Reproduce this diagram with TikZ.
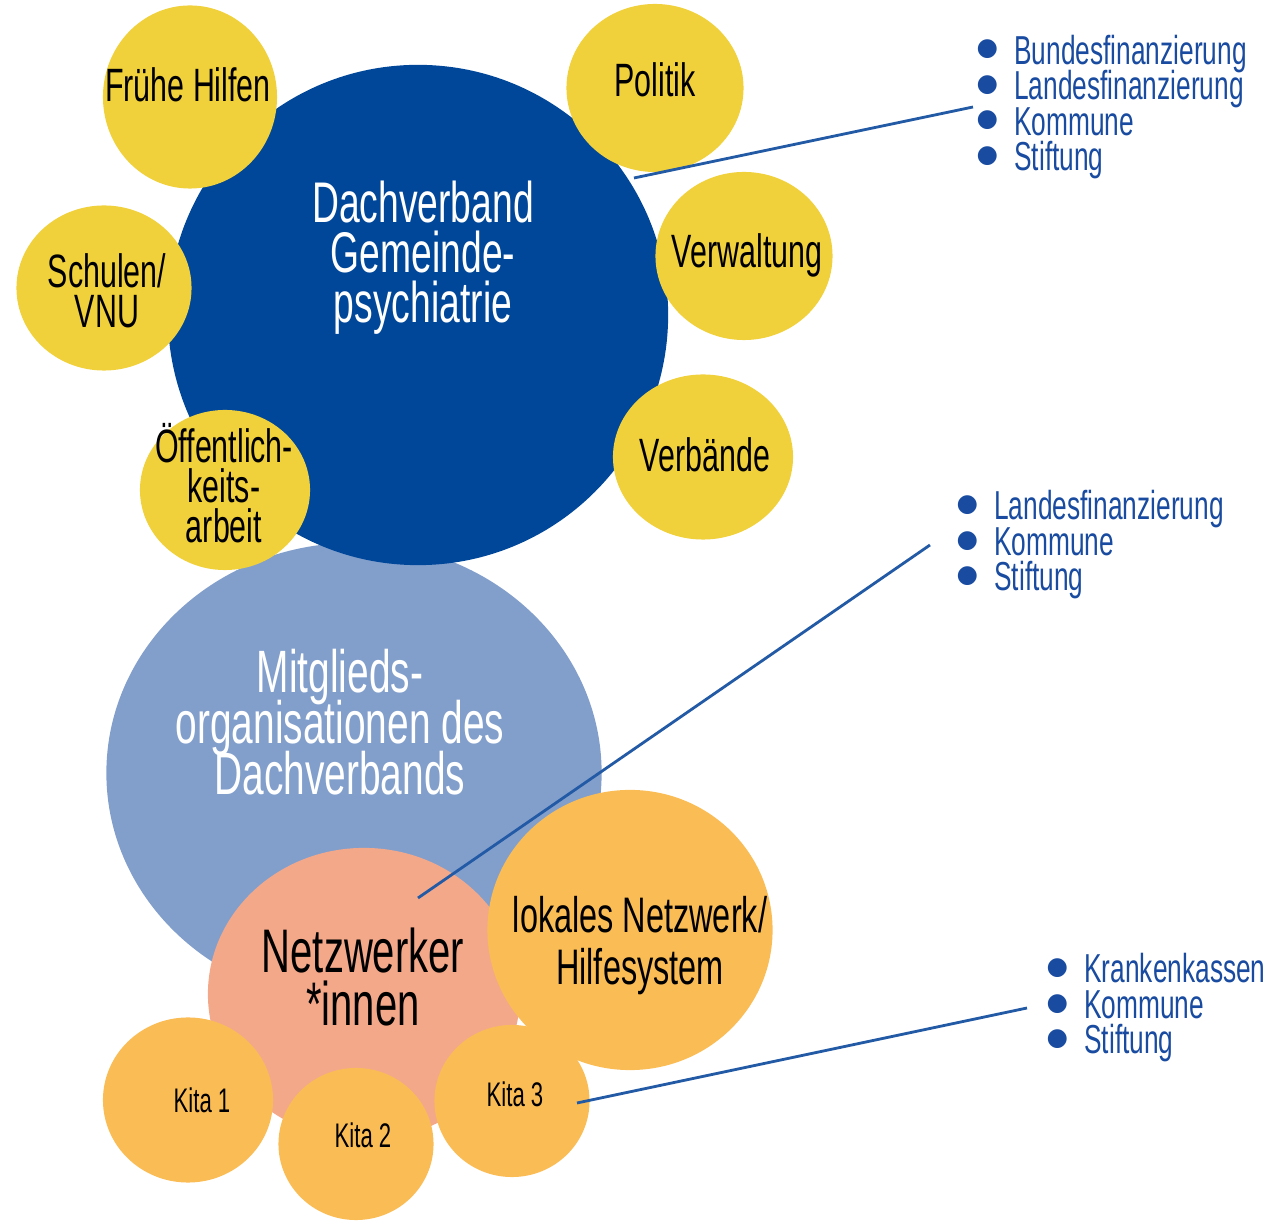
\documentclass[tikz,border=0pt]{standalone}
\usepackage{fontspec}
\setmainfont{Liberation Sans}[FakeStretch=0.65]
\newfontfamily\dotfont{DejaVu Sans}
\usetikzlibrary{shapes.geometric}

\definecolor{dachblau}{RGB}{0,71,153}
\definecolor{mitglblau}{RGB}{130,159,204}
\definecolor{gelb}{RGB}{240,209,60}
\definecolor{lachs}{RGB}{244,168,138}
\definecolor{hellorange}{RGB}{250,188,85}
\definecolor{linie}{RGB}{35,90,165}
\definecolor{schrift}{RGB}{25,75,160}

\setlength{\lineskiplimit}{-100pt}
\newcommand\bul{\raisebox{2.4pt}{\dotfont\fontsize{7}{7}\selectfont ●}\hspace{4.6pt}}
\def\pxl{0.01cm}

\begin{document}
\begin{tikzpicture}[%
	x=\pxl, y=-\pxl,%
	blob/.style={ellipse, inner sep=0pt},%
	gelbblob/.style={blob, fill=gelb},%
	kitablob/.style={blob, fill=hellorange},%
	txt/.style={inner sep=0pt, align=center},%
	dachtxt/.style={txt, white, font=\fontsize{16.3}{14.2}\selectfont},%
	mitgltxt/.style={txt, white, font=\fontsize{17}{14.5}\selectfont},%
	netztxt/.style={txt, font=\fontsize{17.5}{14.8}\selectfont},%
	lokaltxt/.style={txt, font=\fontsize{14.2}{14.8}\selectfont},%
	gelbtxt/.style={txt, font=\fontsize{13.3}{11.3}\selectfont},%
	kitatxt/.style={txt, font=\fontsize{9.7}{11}\selectfont},%
	liste/.style={schrift, align=left, inner ysep=0pt, anchor=west, font=\fontsize{11.5}{10.1}\selectfont},%
	verbinder/.style={linie, line width=0.8pt},%
	]
	\useasboundingbox (0,0) rectangle (1281,1222);
%%% blobs
	\node[blob, fill=mitglblau, minimum width=4.95cm, minimum height=4.6cm] (mitgl) at (354,773) {};
	\node[blob, fill=dachblau, minimum width=5cm, minimum height=5cm] (dach) at (418,315) {};
	\foreach \name/\x/\y/\w/\h in {fruehe/190/97/1.74/1.83, politik/655/88/1.77/1.68,%
		verwaltung/744/256/1.77/1.68, schulen/104/288/1.75/1.65,%
		oeffentlich/225/490/1.70/1.60, verbaende/703/457/1.80/1.65}
		{\node[gelbblob, minimum width=\w cm, minimum height=\h cm] (\name) at (\x,\y) {};}
	\node[blob, fill=lachs, minimum width=3.12cm, minimum height=2.92cm] (netz) at (364,994) {};
	\node[blob, fill=hellorange, minimum width=2.85cm, minimum height=2.8cm] (lokal) at (630,930) {};
	\foreach \name/\x/\y/\w/\h in {kita1/188/1100/1.70/1.65, kita2/356/1144/1.55/1.52, kita3/512/1101/1.55/1.52}
		{\node[kitablob, minimum width=\w cm, minimum height=\h cm] (\name) at (\x,\y) {};}
%%% blobs
%%% texts
	\node[dachtxt] (dach-txt) at (423,258) {Dachverband\\Gemeinde-\\psychiatrie};
	\node[mitgltxt] (mitgl-txt) at (340,722) {Mitglieds-\\organisationen des\\Dachverbands};
	\node[netztxt] (netz-txt) at (363,977) {Netzwerker\\*innen};
	\node[lokaltxt] (lokal-txt) at (640,946) {lokales Netzwerk/\\Hilfesystem};
	\node[gelbtxt, anchor=base] (fruehe-txt) at (188,102) {Frühe Hilfen};
	\node[gelbtxt, anchor=base] (politik-txt) at (655,97) {Politik};
	\node[gelbtxt, anchor=base] (verwaltung-txt) at (747,268) {Verwaltung};
	\node[gelbtxt, anchor=base] (verbaende-txt) at (705,472) {Verbände};
	\node[gelbtxt] (schulen-txt) at (107,291) {Schulen/\\VNU};
	\node[gelbtxt] (oeffentlich-txt) at (224,483) {Öffentlich-\\keits-\\arbeit};
	\foreach \name/\x/\y/\label in {kita1/202/1113/1, kita2/363/1148/2, kita3/515/1107/3}
		{\node[kitatxt, anchor=base] (\name-txt) at (\x,\y) {Kita \label};}
%%% texts
%%% lists
	\node[liste, inner xsep=0.03cm] (fin-dach) at (973,107)
		{\bul Bundesfinanzierung\\\bul Landesfinanzierung\\\bul Kommune\\\bul Stiftung};
	\node[liste, inner xsep=0.26cm] (fin-netz) at (930,545)
		{\bul Landesfinanzierung\\\bul Kommune\\\bul Stiftung};
	\node[liste, inner xsep=0.19cm] (fin-kita) at (1027,1008)
		{\bul Krankenkassen\\\bul Kommune\\\bul Stiftung};
%%% lists
%%% connectors
	\coordinate (politik-ende) at (634,178);
	\coordinate (netz-ende) at (418,898);
	\coordinate (kita-ende) at (577,1103);
	\draw[verbinder] (politik-ende) -- (fin-dach.west);
	\draw[verbinder] (netz-ende) -- (fin-netz.west);
	\draw[verbinder] (kita-ende) -- (fin-kita.west);
%%% connectors
\end{tikzpicture}
\end{document}
